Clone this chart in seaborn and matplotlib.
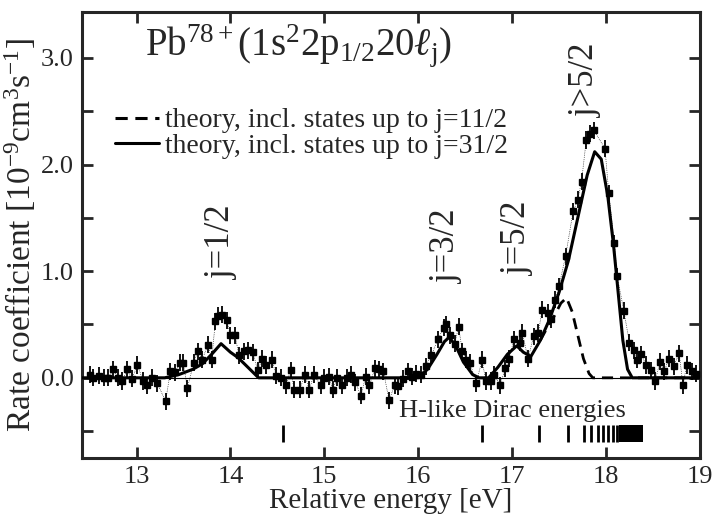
import matplotlib

matplotlib.use("Agg")
import matplotlib.pyplot as plt
import seaborn as sns
from matplotlib.ticker import MultipleLocator, FuncFormatter

# measured rate coefficient (10^-9 cm^3 s^-1) vs relative energy (eV)
data_e = [
    12.50, 12.54, 12.60, 12.65, 12.70, 12.75, 12.80, 12.85, 12.90, 12.95,
    13.01, 13.07, 13.11, 13.16, 13.22, 13.31, 13.36, 13.41, 13.46, 13.50,
    13.54, 13.61, 13.65, 13.70, 13.76, 13.80, 13.84, 13.87, 13.91, 13.96,
    14.00, 14.05, 14.09, 14.14, 14.19, 14.24, 14.29, 14.34, 14.38, 14.44,
    14.49, 14.54, 14.59, 14.64, 14.68, 14.74, 14.79, 14.84, 14.89, 14.96,
    15.00, 15.05, 15.09, 15.14, 15.19, 15.24, 15.28, 15.33, 15.39, 15.44,
    15.48, 15.54, 15.58, 15.63, 15.69, 15.75, 15.79, 15.84, 15.89, 15.93,
    15.98, 16.03, 16.08, 16.14, 16.21, 16.27, 16.30, 16.34, 16.39, 16.43,
    16.47, 16.51, 16.55, 16.62, 16.68, 16.72, 16.78, 16.81, 16.87, 16.93,
    16.97, 17.02, 17.08, 17.11, 17.17, 17.23, 17.28, 17.32, 17.38, 17.41,
    17.46, 17.50, 17.57, 17.65, 17.70, 17.74, 17.79, 17.83, 17.87, 17.99,
    18.03, 18.09, 18.12, 18.19, 18.25, 18.30, 18.33, 18.37, 18.43, 18.48,
    18.52, 18.58, 18.62, 18.67, 18.72, 18.78, 18.82, 18.86, 18.92, 18.96,
]
data_v = [
    0.03, 0.00, 0.02, 0.00, 0.00, 0.08, 0.00, -0.03, 0.08, -0.01,
    0.12, -0.03, -0.07, 0.00, -0.05, -0.22, 0.06, 0.05, 0.14, 0.14,
    -0.10, 0.14, 0.25, 0.17, 0.31, 0.17, 0.53, 0.58, 0.59, 0.54,
    0.40, 0.40, 0.21, 0.25, 0.26, 0.24, 0.07, 0.18, 0.12, 0.17,
    0.02, 0.00, -0.07, 0.07, -0.11, -0.11, 0.03, -0.11, 0.03, -0.07,
    0.00, 0.01, -0.11, 0.00, -0.07, 0.00, 0.03, -0.04, -0.17, 0.01,
    -0.07, 0.09, 0.08, 0.06, -0.21, -0.07, -0.08, -0.01, 0.06, 0.01,
    0.04, 0.03, 0.11, 0.21, 0.36, 0.47, 0.50, 0.40, 0.32, 0.48,
    0.25, 0.17, 0.14, -0.05, 0.17, -0.03, -0.03, 0.03, -0.07, 0.09,
    0.18, 0.36, 0.33, 0.42, 0.18, 0.39, 0.42, 0.64, 0.61, 0.55,
    0.73, 0.86, 1.14, 1.56, 1.67, 1.84, 2.23, 2.29, 2.32, 2.15,
    1.73, 1.26, 0.95, 0.63, 0.33, 0.26, 0.17, 0.22, 0.12, 0.07,
    -0.03, 0.15, 0.06, 0.18, 0.11, 0.23, -0.07, 0.12, 0.06, 0.04,
]
data_err = 0.08

# theory, incl. states up to j=31/2
full_e = [12.42, 13.30, 13.45, 13.60, 13.70, 13.80, 13.90, 14.00, 14.08, 14.15,
          14.30, 16.00, 16.10, 16.20, 16.28, 16.33, 16.40, 16.48, 16.58, 16.65,
          16.75, 16.85, 16.95, 17.05, 17.12, 17.20, 17.30, 17.40, 17.50, 17.60,
          17.70, 17.80, 17.88, 17.95, 18.02, 18.08, 18.13, 18.18, 18.23, 18.28,
          19.00]
full_v = [0.00, 0.00, 0.03, 0.08, 0.13, 0.22, 0.32, 0.24, 0.19, 0.13,
          0.00, 0.00, 0.08, 0.22, 0.34, 0.38, 0.30, 0.15, 0.03, 0.00,
          0.00, 0.10, 0.22, 0.30, 0.24, 0.20, 0.35, 0.55, 0.80, 1.10,
          1.50, 1.90, 2.12, 2.05, 1.70, 1.25, 0.80, 0.35, 0.08, 0.00,
          0.00]

# theory, incl. states up to j=11/2 (differs from the full one above 17.3 eV)
part_e = [17.30, 17.38, 17.45, 17.52, 17.58, 17.64, 17.70, 17.76, 17.82, 17.86, 19.00]
part_v = [0.35, 0.48, 0.58, 0.70, 0.75, 0.62, 0.40, 0.18, 0.04, 0.00, 0.00]

# H-like Dirac energies
dirac_e = [14.56, 16.68, 17.29, 17.60, 17.77, 17.84, 17.92, 17.97, 18.02, 18.07, 18.12]
dirac_block = [18.14, 18.39]

peak_labels = ["j=1/2", "j=3/2", "j=5/2", "j>5/2"]
peak_label_e = [13.91, 16.30, 17.06, 17.78]
peak_label_v = [1.27, 1.23, 1.31, 2.79]

sns.set_theme(style="ticks")
plt.rcParams["font.family"] = ["Liberation Serif", "DejaVu Serif"]
plt.rcParams["mathtext.fontset"] = "custom"
plt.rcParams["mathtext.rm"] = "Liberation Serif"
plt.rcParams["mathtext.it"] = "Liberation Serif:italic"
plt.rcParams["mathtext.cal"] = "Liberation Serif:italic"

fig = plt.figure(figsize=(7.2, 5.22), dpi=100)
ax = fig.add_axes([0.114, 0.123, 0.858, 0.854])

ax.axhline(0, color="black", linewidth=0.8, zorder=1)
ax.errorbar(data_e, data_v, yerr=data_err, fmt="s", color="black",
            markersize=4.2, elinewidth=1.3, capsize=0, zorder=3)
ax.plot(data_e, data_v, color="black", linewidth=0.5, linestyle=":", zorder=2)

sns.lineplot(x=part_e, y=part_v, color="black", linewidth=2.0, linestyle=(0, (4, 2.5)),
             sort=False, estimator=None, ax=ax, zorder=4,
             label="theory, incl. states up to j=11/2")
sns.lineplot(x=full_e, y=full_v, color="black", linewidth=2.2,
             sort=False, estimator=None, ax=ax, zorder=5,
             label="theory, incl. states up to j=31/2")

ax.vlines(dirac_e, -0.60, -0.44, color="black", linewidth=2.0)
ax.fill_between(dirac_block, -0.60, -0.44, color="black", linewidth=0)
ax.text(15.80, -0.31, "H-like Dirac energies", fontsize=19, ha="left", va="center")

for lab, e, v in zip(peak_labels, peak_label_e, peak_label_v):
    ax.text(e, v, lab, fontsize=25, rotation=90, ha="center", va="center")

ax.text(0.102, 0.925, r"Pb$^{78+}$(1s$^{2}$2p$_{1/2}$20$\ell_{\mathrm{j}}$)",
        transform=ax.transAxes, fontsize=28, ha="left", va="center")

ax.set_xlim(12.42, 19.0)
ax.set_ylim(-0.75, 3.43)
ax.xaxis.set_major_locator(MultipleLocator(1))
ax.yaxis.set_major_locator(MultipleLocator(0.5))
ax.yaxis.set_major_formatter(FuncFormatter(lambda v, p: f"{v:.1f}" if abs(v - round(v)) < 1e-6 else ""))
ax.tick_params(direction="in", length=8, width=2, top=True, right=True, labelsize=19, pad=6)
for sp in ax.spines.values():
    sp.set_linewidth(2.2)
    sp.set_visible(True)

ax.set_xlabel("Relative energy [eV]", fontsize=21, labelpad=0)
ax.set_ylabel(r"Rate coefficient [10$^{-9}$cm$^{3}$s$^{-1}$]", fontsize=24, labelpad=2)

leg = ax.legend(loc="upper left", bbox_to_anchor=(0.035, 0.81), frameon=False,
                fontsize=20, handlelength=1.6, handletextpad=0.2, labelspacing=0.0,
                borderaxespad=0)
for h in leg.get_lines():
    h.set_linewidth(2.2)

fig.savefig("out.png", dpi=100)
